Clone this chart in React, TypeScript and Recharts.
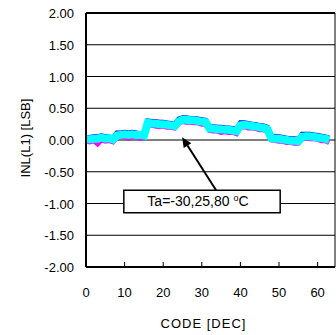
import React from 'react';
import { LineChart, Line, XAxis, YAxis, CartesianGrid, ReferenceLine, ReferenceArea } from 'recharts';

const codes = [
  0, 1, 2, 3, 4, 5, 6, 7, 8, 9, 10, 11, 12, 13, 14, 15,
  16, 17, 18, 19, 20, 21, 22, 23, 24, 25, 26, 27, 28, 29, 30, 31,
  32, 33, 34, 35, 36, 37, 38, 39, 40, 41, 42, 43, 44, 45, 46, 47,
  48, 49, 50, 51, 52, 53, 54, 55, 56, 57, 58, 59, 60, 61, 62, 63,
];

const inlM30 = [
  0.04, 0.04, 0.05, 0.05, 0.07, 0.05, 0.05, 0.03,
  0.11, 0.11, 0.12, 0.11, 0.12, 0.11, 0.10, 0.10,
  0.30, 0.29, 0.29, 0.28, 0.28, 0.27, 0.26, 0.25,
  0.33, 0.35, 0.35, 0.34, 0.34, 0.33, 0.32, 0.31,
  0.21, 0.21, 0.20, 0.20, 0.19, 0.19, 0.18, 0.17,
  0.27, 0.27, 0.26, 0.25, 0.24, 0.23, 0.22, 0.20,
  0.06, 0.05, 0.05, 0.04, 0.03, 0.02, 0.02, 0.01,
  0.09, 0.09, 0.09, 0.08, 0.07, 0.06, 0.05, 0.03,
];

const inl80 = [
  -0.02, -0.03, -0.01, -0.06, 0.00, -0.02, -0.01, -0.03,
  0.04, 0.05, 0.05, 0.03, 0.05, 0.05, 0.03, 0.04,
  0.24, 0.23, 0.22, 0.21, 0.22, 0.20, 0.20, 0.19,
  0.26, 0.29, 0.28, 0.28, 0.27, 0.27, 0.25, 0.25,
  0.15, 0.14, 0.14, 0.12, 0.13, 0.12, 0.12, 0.10,
  0.20, 0.21, 0.19, 0.19, 0.18, 0.16, 0.16, 0.14,
  0.00, -0.01, -0.02, -0.02, -0.04, -0.04, -0.05, -0.05,
  0.02, 0.03, 0.02, 0.02, 0.01, -0.01, -0.01, -0.04,
];

const inl25 = [
  0.01, 0.01, 0.02, 0.02, 0.04, 0.02, 0.03, 0.01,
  0.07, 0.08, 0.09, 0.08, 0.09, 0.08, 0.08, 0.07,
  0.27, 0.26, 0.26, 0.25, 0.25, 0.24, 0.23, 0.22,
  0.29, 0.32, 0.32, 0.31, 0.31, 0.30, 0.29, 0.28,
  0.18, 0.18, 0.17, 0.17, 0.16, 0.16, 0.15, 0.14,
  0.23, 0.24, 0.23, 0.22, 0.21, 0.20, 0.19, 0.17,
  0.03, 0.02, 0.02, 0.01, 0.00, -0.01, -0.01, -0.02,
  0.05, 0.06, 0.06, 0.05, 0.04, 0.03, 0.02, 0.00,
];

const xTicks = [0, 10, 20, 30, 40, 50, 60];
const yTicks = [-2, -1.5, -1, -0.5, 0, 0.5, 1, 1.5, 2];
const labelText = 'Ta=-30,25,80';
const xTitle = 'CODE [DEC]';
const yTitle = 'INL(L1) [LSB]';

const data = codes.map((c, i) => ({ code: c, a: inlM30[i], b: inl80[i], c: inl25[i] }));

const FONT = '"Liberation Sans", Arial, sans-serif';

const XTick = (props: any) => {
  const { x, y, payload } = props;
  return (
    <g>
      {payload.value !== 0 && <line x1={x} y1={y} x2={x} y2={y - 5} stroke="#000" strokeWidth={1} />}
      <text x={x} y={y + 30} textAnchor="middle" fontSize={13} fontFamily={FONT} fill="#000">
        {payload.value}
      </text>
    </g>
  );
};

const YTick = (props: any) => {
  const { x, y, payload } = props;
  return (
    <text x={x - 12} y={y + 5} textAnchor="end" fontSize={13} fontFamily={FONT} fill="#000">
      {Number(payload.value).toFixed(2)}
    </text>
  );
};

const Arrow = (props: any) => {
  const { x1, y1, x2, y2 } = props;
  // arrow from (x1,y1) tail to (x2,y2) tip
  const dx = x2 - x1;
  const dy = y2 - y1;
  const len = Math.sqrt(dx * dx + dy * dy) || 1;
  const ux = dx / len;
  const uy = dy / len;
  const hl = 10;
  const hw = 4.5;
  const bx = x2 - ux * hl;
  const by = y2 - uy * hl;
  const p1 = `${bx - uy * hw},${by + ux * hw}`;
  const p2 = `${bx + uy * hw},${by - ux * hw}`;
  return (
    <g>
      <line x1={x1} y1={y1} x2={bx} y2={by} stroke="#000" strokeWidth={2} />
      <polygon points={`${x2},${y2} ${p1} ${p2}`} fill="#000" />
    </g>
  );
};

const BoxLabel = (props: any) => {
  const { viewBox } = props;
  const cx = viewBox.x + viewBox.width / 2 - 4;
  const cy = viewBox.y + viewBox.height / 2 + 5;
  return (
    <text x={cx} y={cy} textAnchor="middle" fontSize={14} fontFamily={FONT} fill="#000">
      {labelText}
      <tspan dx={4} dy={-5} fontSize={9}>o</tspan>
      <tspan dy={5}>C</tspan>
    </text>
  );
};

export default function App() {
  return (
    <div style={{ position: 'absolute', left: 0, top: 0, background: '#fff' }}>
      <LineChart
        width={336}
        height={335}
        data={data}
        margin={{ top: 13, right: 1, left: 0, bottom: 0 }}
      >
        <CartesianGrid horizontal vertical={false} stroke="#000" strokeWidth={1} />
        <XAxis
          dataKey="code"
          type="number"
          domain={[0, 64.5]}
          ticks={xTicks}
          allowDataOverflow
          height={68}
          tickLine={false}
          tickSize={0}
          tickMargin={0}
          axisLine={{ stroke: '#000', strokeWidth: 2 }}
          tick={<XTick />}
          interval={0}
          label={{
            content: (p: any) => (
              <text
                x={p.viewBox.x + p.viewBox.width / 2 - 7}
                y={p.viewBox.y + 61}
                textAnchor="middle"
                fontSize={13}
                letterSpacing={1}
                fontFamily={FONT}
                fill="#000"
              >
                {xTitle}
              </text>
            ),
          }}
        />
        <YAxis
          type="number"
          domain={[-2, 2]}
          ticks={yTicks}
          width={86}
          tickLine={false}
          tickSize={0}
          tickMargin={0}
          axisLine={{ stroke: '#000', strokeWidth: 2 }}
          tick={<YTick />}
          interval={0}
          label={{
            content: (p: any) => {
              const cx = 30;
              const cy = p.viewBox.y + p.viewBox.height / 2 - 2;
              return (
                <text
                  x={cx}
                  y={cy}
                  transform={`rotate(-90 ${cx} ${cy})`}
                  textAnchor="middle"
                  fontSize={13}
                  fontFamily={FONT}
                  fill="#000"
                >
                  {yTitle}
                </text>
              );
            },
          }}
        />
        <ReferenceLine y={2} stroke="#000" strokeWidth={2} />
        <ReferenceLine x={64.5} stroke="#000" strokeWidth={1} />
        <Line dataKey="b" stroke="#FF00FF" strokeWidth={5} dot={false} isAnimationActive={false} />
        <Line dataKey="a" stroke="#0000FF" strokeWidth={5} dot={false} isAnimationActive={false} />
        <Line dataKey="c" stroke="#00FFFF" strokeWidth={8} dot={false} isAnimationActive={false} />
        <ReferenceArea
          x1={9.8}
          x2={50.3}
          y1={-1.145}
          y2={-0.79}
          fill="#fff"
          fillOpacity={1}
          stroke="#000"
          strokeWidth={1.5}
          label={<BoxLabel />}
        />
        <ReferenceLine
          segment={[{ x: 33.7, y: -0.79 }, { x: 24.9, y: 0.045 }]}
          shape={<Arrow />}
        />
      </LineChart>
    </div>
  );
}
